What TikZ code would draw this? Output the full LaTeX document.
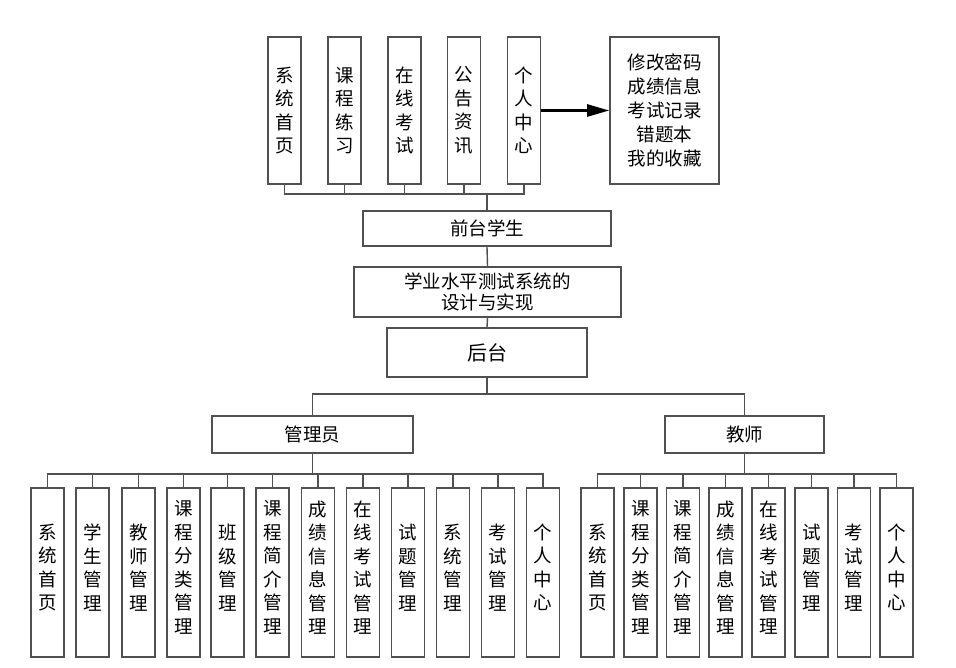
\documentclass[tikz,border=0pt]{standalone}
\usepackage{fontspec}
\setmainfont{Noto Sans CJK SC}
\usetikzlibrary{arrows.meta}
\definecolor{linegray}{HTML}{505050}
\tikzset{
  box/.style={draw=linegray, line width=1.6pt, fill=white, inner sep=0pt, align=center,
    font=\fontsize{18.5}{23.5}\selectfont},
  vbox/.style={box, minimum width=33pt},
  topbox/.style={vbox, minimum height=147pt},
  botbox/.style={vbox, minimum height=169pt},
  conn/.style={draw=linegray, line width=1.4pt},
}
\begin{document}
\begin{tikzpicture}[x=1pt,y=-1pt]
\useasboundingbox (0,0) rectangle (956,667);
% top row
\node[topbox] (t1) at (284.5,110.5) {系\\统\\首\\页};
\node[topbox] (t2) at (344.5,110.5) {课\\程\\练\\习};
\node[topbox] (t3) at (404.5,110.5) {在\\线\\考\\试};
\node[topbox] (t4) at (464,110.5) {公\\告\\资\\讯};
\node[topbox] (t5) at (524,110.5) {个\\人\\中\\心};
\node[box, minimum width=109pt, minimum height=147pt, font=\fontsize{18.5}{24}\selectfont] (pc) at (664.5,110.5) {修改密码\\成绩信息\\考试记录\\错题本\\我的收藏};
\draw[black, line width=2.6pt, -{Triangle[length=22pt,width=12pt]}] (t5.east) -- (pc.west);
% middle
\node[box, minimum width=248pt, minimum height=35pt] (front) at (487,228.5) {前台学生};
\node[box, minimum width=267pt, minimum height=50pt, font=\fontsize{18.5}{21}\selectfont] (sys) at (487.5,292) {学业水平测试系统的\\设计与实现};
\node[box, minimum width=200pt, minimum height=49pt, font=\fontsize{20}{23}\selectfont] (back) at (487,352.5) {后台};
\node[box, minimum width=201pt, minimum height=37pt] (admin) at (312.5,434.5) {管理员};
\node[box, minimum width=159pt, minimum height=37pt] (teach) at (744.5,434.5) {教师};
% top bus
\coordinate (tb) at (487,194);
\draw[conn] (t1.south) |- (tb) -| (t5.south);
\foreach \i in {2,3,4} \draw[conn] (t\i.south) -- (t\i.south |- tb);
\draw[conn] (tb) -- (front.north);
\draw[conn] (front.south) -- (sys.north);
\draw[conn] (sys.south) -- (back.north);
\coordinate (mb) at (487,394);
\draw[conn] (back.south) -- (mb);
\draw[conn] (admin.north) |- (mb) -| (teach.north);
% admin boxes
\foreach \n/\x/\t in {1/47.5/{系\\统\\首\\页}, 2/92.5/{学\\生\\管\\理}, 3/138.5/{教\\师\\管\\理},
  4/183.5/{课\\程\\分\\类\\管\\理}, 5/227.5/{班\\级\\管\\理}, 6/272.5/{课\\程\\简\\介\\管\\理},
  7/318/{成\\绩\\信\\息\\管\\理}, 8/363/{在\\线\\考\\试\\管\\理}, 9/408/{试\\题\\管\\理},
  10/453/{系\\统\\管\\理}, 11/498/{考\\试\\管\\理}, 12/543/{个\\人\\中\\心}}
  \node[botbox, label={[align=center, font=\fontsize{18.5}{23.5}\selectfont, yshift=5pt]center:\t}] (a\n) at (\x,572.5) {};
\coordinate (ab) at (312.5,474);
\draw[conn] (a1.north) |- (ab) -| (a12.north);
\foreach \i in {2,...,11} \draw[conn] (a\i.north) -- (a\i.north |- ab);
\draw[conn] (admin.south) -- (ab);
% teacher boxes
\foreach \n/\x/\t in {1/597.5/{系\\统\\首\\页}, 2/640.5/{课\\程\\分\\类\\管\\理}, 3/683/{课\\程\\简\\介\\管\\理},
  4/725.5/{成\\绩\\信\\息\\管\\理}, 5/768.5/{在\\线\\考\\试\\管\\理}, 6/811.5/{试\\题\\管\\理},
  7/854/{考\\试\\管\\理}, 8/896.5/{个\\人\\中\\心}}
  \node[botbox, label={[align=center, font=\fontsize{18.5}{23.5}\selectfont, yshift=5pt]center:\t}] (b\n) at (\x,572.5) {};
\coordinate (bb) at (744.5,474);
\draw[conn] (b1.north) |- (bb) -| (b8.north);
\foreach \i in {2,...,7} \draw[conn] (b\i.north) -- (b\i.north |- bb);
\draw[conn] (teach.south) -- (bb);
\end{tikzpicture}
\end{document}
